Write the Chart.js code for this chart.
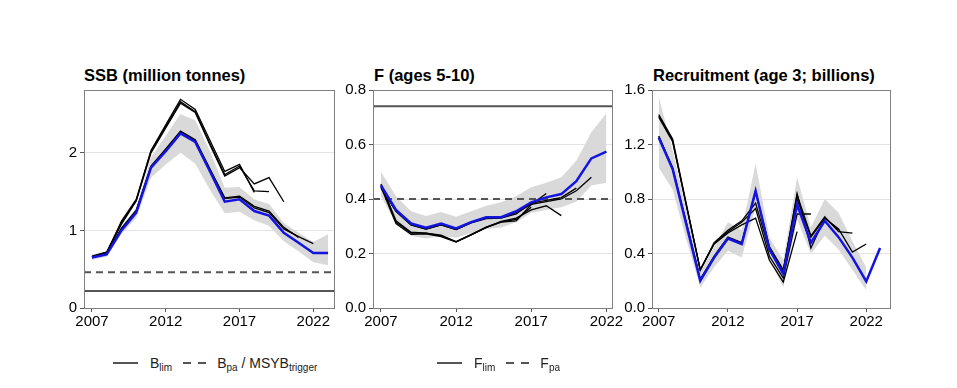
<!DOCTYPE html>
<html>
<head>
<meta charset="utf-8">
<script src="https://cdn.jsdelivr.net/npm/chart.js@4.4.0/dist/chart.umd.min.js"></script>
<style>
  body { margin: 0; background: #fff; width: 957px; height: 388px; position: relative; overflow: hidden;
         font-family: "Liberation Sans", Arial, sans-serif; }
  canvas { position: absolute; }
  .title { position: absolute; top: 66px; font-weight: bold; font-size: 16.5px; color: #000; white-space: nowrap; }
  .legend { position: absolute; top: 355px; height: 16px; line-height: 16px; font-size: 14px; color: #222;
            display: flex; align-items: center; white-space: nowrap; }
  .legend sub { font-size: 10px; vertical-align: -3px; line-height: 0; }
  .solid { display: inline-block; width: 25px; height: 2px; background: #555; margin-right: 12px; }
  .dashed { display: inline-block; width: 23px; height: 2px; margin: 0 11px;
            background: repeating-linear-gradient(90deg, #555 0 8px, transparent 8px 15px); }
</style>
</head>
<body>

<div class="title" style="left:84px">SSB (million tonnes)</div>
<div class="title" style="left:374px">F (ages 5-10)</div>
<div class="title" style="left:653px">Recruitment (age 3; billions)</div>

<canvas id="ssbChart" width="320" height="260" style="left:40px; top:78px"></canvas>
<canvas id="fChart" width="309" height="260" style="left:329px; top:78px"></canvas>
<canvas id="recChart" width="308" height="260" style="left:608px; top:78px"></canvas>

<div class="legend" style="left:113px">
  <span class="solid"></span><span>B<sub>lim</sub></span><span class="dashed"></span><span>B<sub>pa</sub> / MSYB<sub>trigger</sub></span>
</div>
<div class="legend" style="left:437px">
  <span class="solid"></span><span>F<sub>lim</sub></span><span class="dashed"></span><span>F<sub>pa</sub></span>
</div>

<script>
// x tick labels shared by all three panels
const xTicks = [2007, 2012, 2017, 2022];

// ---- SSB (million tonnes) ----
const ssbYears = [2007, 2008, 2009, 2010, 2011, 2012, 2013, 2014, 2015, 2016, 2017, 2018, 2019, 2020, 2021, 2022, 2023];
const ssbCurrent = [0.65, 0.69, 1.00, 1.23, 1.81, 2.02, 2.25, 2.14, 1.76, 1.37, 1.40, 1.25, 1.19, 0.97, 0.84, 0.71, 0.71];
const ssbLow  = [0.62, 0.66, 0.95, 1.16, 1.68, 1.85, 2.00, 1.86, 1.52, 1.22, 1.24, 1.13, 1.06, 0.86, 0.73, 0.59, 0.55];
const ssbHigh = [0.69, 0.73, 1.05, 1.29, 1.94, 2.22, 2.50, 2.42, 2.02, 1.55, 1.56, 1.40, 1.34, 1.10, 0.97, 0.85, 0.95];
const ssbA2018 = [0.66, 0.71, 1.12, 1.40, 2.03, 2.36, 2.69, 2.56, 2.16, 1.76, 1.85, 1.49];
const ssbA2019 = [0.66, 0.72, 1.10, 1.39, 2.02, 2.34, 2.66, 2.53, 2.12, 1.72, 1.83, 1.51, 1.50];
const ssbA2020 = [0.67, 0.72, 1.08, 1.38, 2.00, 2.32, 2.64, 2.52, 2.10, 1.70, 1.81, 1.60, 1.68, 1.37];
const ssbA2021 = [0.66, 0.70, 1.03, 1.26, 1.83, 2.05, 2.28, 2.17, 1.79, 1.42, 1.44, 1.31, 1.25, 1.04, 0.91];
const ssbA2022 = [0.65, 0.70, 1.02, 1.25, 1.82, 2.04, 2.27, 2.16, 1.78, 1.41, 1.43, 1.29, 1.23, 1.02, 0.92, 0.83];
const ssbTicks = [0, 1, 2];
const bLim = 0.22;
const bPa = 0.46;

// ---- F (ages 5-10) ----
const fYears = [2007, 2008, 2009, 2010, 2011, 2012, 2013, 2014, 2015, 2016, 2017, 2018, 2019, 2020, 2021, 2022];
const fCurrent = [0.45, 0.36, 0.31, 0.295, 0.31, 0.292, 0.315, 0.333, 0.333, 0.355, 0.388, 0.406, 0.418, 0.465, 0.549, 0.574];
const fLow  = [0.41, 0.31, 0.265, 0.255, 0.265, 0.258, 0.275, 0.29, 0.295, 0.315, 0.35, 0.36, 0.37, 0.39, 0.45, 0.46];
const fHigh = [0.50, 0.41, 0.355, 0.338, 0.352, 0.335, 0.355, 0.375, 0.388, 0.41, 0.443, 0.46, 0.48, 0.54, 0.645, 0.715];
const fA2018 = [0.455, 0.32, 0.278, 0.275, 0.267, 0.244, 0.27, 0.297, 0.316, 0.325, 0.37];
const fA2019 = [0.45, 0.315, 0.275, 0.275, 0.265, 0.243, 0.268, 0.295, 0.315, 0.32, 0.38, 0.42];
const fA2020 = [0.445, 0.31, 0.27, 0.272, 0.262, 0.242, 0.268, 0.296, 0.318, 0.33, 0.36, 0.375, 0.339];
const fA2021 = [0.44, 0.355, 0.305, 0.29, 0.305, 0.288, 0.312, 0.328, 0.33, 0.345, 0.385, 0.395, 0.405, 0.44];
const fA2022 = [0.445, 0.355, 0.305, 0.29, 0.305, 0.288, 0.313, 0.33, 0.332, 0.35, 0.38, 0.39, 0.40, 0.43, 0.48];
const fTicks = [0, 0.2, 0.4, 0.6, 0.8];
const fLim = 0.74;
const fPa = 0.40;

// ---- Recruitment (age 3; billions) ----
const recYears = [2007, 2008, 2009, 2010, 2011, 2012, 2013, 2014, 2015, 2016, 2017, 2018, 2019, 2020, 2021, 2022, 2023];
const recCurrent = [1.25, 1.02, 0.61, 0.20, 0.37, 0.51, 0.47, 0.86, 0.43, 0.25, 0.76, 0.48, 0.64, 0.52, 0.37, 0.195, 0.44];
const recLow  = [1.03, 0.87, 0.50, 0.15, 0.30, 0.42, 0.37, 0.74, 0.36, 0.15, 0.65, 0.40, 0.53, 0.43, 0.28, 0.13];
const recHigh = [1.55, 1.16, 0.72, 0.27, 0.45, 0.63, 0.57, 1.06, 0.52, 0.35, 0.96, 0.59, 0.80, 0.70, 0.49, 0.30];
const recA2018 = [1.42, 1.24, 0.76, 0.28, 0.47, 0.55, 0.61, 0.66, 0.35, 0.19, 0.56];
const recA2019 = [1.41, 1.23, 0.75, 0.28, 0.47, 0.56, 0.63, 0.73, 0.38, 0.22, 0.69, 0.69];
const recA2020 = [1.40, 1.22, 0.75, 0.28, 0.48, 0.57, 0.64, 0.77, 0.42, 0.27, 0.84, 0.44, 0.66, 0.57];
const recA2021 = [1.26, 1.03, 0.62, 0.21, 0.38, 0.52, 0.48, 0.86, 0.45, 0.28, 0.83, 0.53, 0.67, 0.56, 0.55];
const recA2022 = [1.26, 1.02, 0.62, 0.21, 0.37, 0.51, 0.48, 0.85, 0.44, 0.27, 0.80, 0.52, 0.66, 0.58, 0.41, 0.47];
const recTicks = [0, 0.4, 0.8, 1.2, 1.6];

const FONT = '"Liberation Sans", Arial, sans-serif';
const BLUE = '#1414e0';

function pts(years, vals) {
    return vals.map((v, i) => ({ x: years[i], y: v }));
}

// grey frame round the plotting area
const framePlugin = {
    id: 'frame',
    afterDraw(chart) {
        const { ctx, chartArea: a } = chart;
        ctx.save();
        ctx.strokeStyle = '#808080';
        ctx.lineWidth = 1;
        ctx.strokeRect(Math.round(a.left) + 0.5, Math.round(a.top) + 0.5,
                       Math.round(a.right - a.left) - 1, Math.round(a.bottom - a.top));
        ctx.restore();
    }
};

function makePanel(id, p) {
    const datasets = [];
    // confidence band
    datasets.push({ data: pts(p.years, p.high), borderWidth: 0, pointRadius: 0,
                    backgroundColor: '#d9d9d9', fill: '+1', order: 4 });
    datasets.push({ data: pts(p.years, p.low), borderWidth: 0, pointRadius: 0, fill: false, order: 4 });
    // reference points
    (p.refs || []).forEach(r => {
        datasets.push({ data: [{ x: p.xMin, y: r.value }, { x: p.xMax, y: r.value }],
                        borderColor: '#555', borderWidth: 2, borderDash: r.dash || [],
                        pointRadius: 0, fill: false, order: 3 });
    });
    // previous assessments
    p.older.forEach(vals => {
        datasets.push({ data: pts(p.years, vals), borderColor: '#000', borderWidth: 1.3,
                        pointRadius: 0, fill: false, order: 2 });
    });
    // current assessment
    datasets.push({ data: pts(p.years, p.current), borderColor: BLUE, borderWidth: 2.5,
                    pointRadius: 0, fill: false, order: 1 });

    return new Chart(document.getElementById(id).getContext('2d'), {
        type: 'line',
        data: { datasets },
        options: {
            responsive: false,
            animation: false,
            elements: { line: { tension: 0 } },
            layout: { padding: { top: 10, right: 25, left: 0, bottom: 0 } },
            plugins: { legend: { display: false }, tooltip: { enabled: false } },
            scales: {
                x: {
                    type: 'linear',
                    min: p.xMin, max: p.xMax,
                    afterBuildTicks: s => { s.ticks = xTicks.map(v => ({ value: v })); },
                    afterFit: s => { s.height = 30; },
                    border: { display: false },
                    grid: { drawOnChartArea: false, drawTicks: true, tickLength: 4, tickColor: '#555' },
                    ticks: { padding: 1, color: '#000', font: { family: FONT, size: 15 },
                             maxRotation: 0, callback: v => String(v) }
                },
                y: {
                    min: 0, max: p.yMax,
                    afterBuildTicks: s => { s.ticks = p.yTicks.map(v => ({ value: v })); },
                    afterFit: s => { s.width = 44; },
                    border: { display: false },
                    grid: { color: '#e3e3e3', lineWidth: 1, drawTicks: true, tickLength: 4, tickColor: '#555' },
                    ticks: { padding: 3, color: '#000', font: { family: FONT, size: 15 },
                             callback: v => v.toFixed(p.decimals) }
                }
            }
        },
        plugins: [framePlugin]
    });
}

makePanel('ssbChart', {
    years: ssbYears, current: ssbCurrent, low: ssbLow, high: ssbHigh,
    older: [ssbA2018, ssbA2019, ssbA2020, ssbA2021, ssbA2022],
    refs: [{ value: bLim }, { value: bPa, dash: [7, 5] }],
    xMin: 2006.46, xMax: 2023.47, yMax: 2.81, yTicks: ssbTicks, decimals: 0
});

makePanel('fChart', {
    years: fYears, current: fCurrent, low: fLow, high: fHigh,
    older: [fA2018, fA2019, fA2020, fA2021, fA2022],
    refs: [{ value: fLim }, { value: fPa, dash: [7, 5] }],
    xMin: 2006.47, xMax: 2022.44, yMax: 0.8, yTicks: fTicks, decimals: 1
});

makePanel('recChart', {
    years: recYears, current: recCurrent, low: recLow, high: recHigh,
    older: [recA2018, recA2019, recA2020, recA2021, recA2022],
    refs: [],
    xMin: 2006.51, xMax: 2023.79, yMax: 1.6, yTicks: recTicks, decimals: 1
});
</script>
</body>
</html>
